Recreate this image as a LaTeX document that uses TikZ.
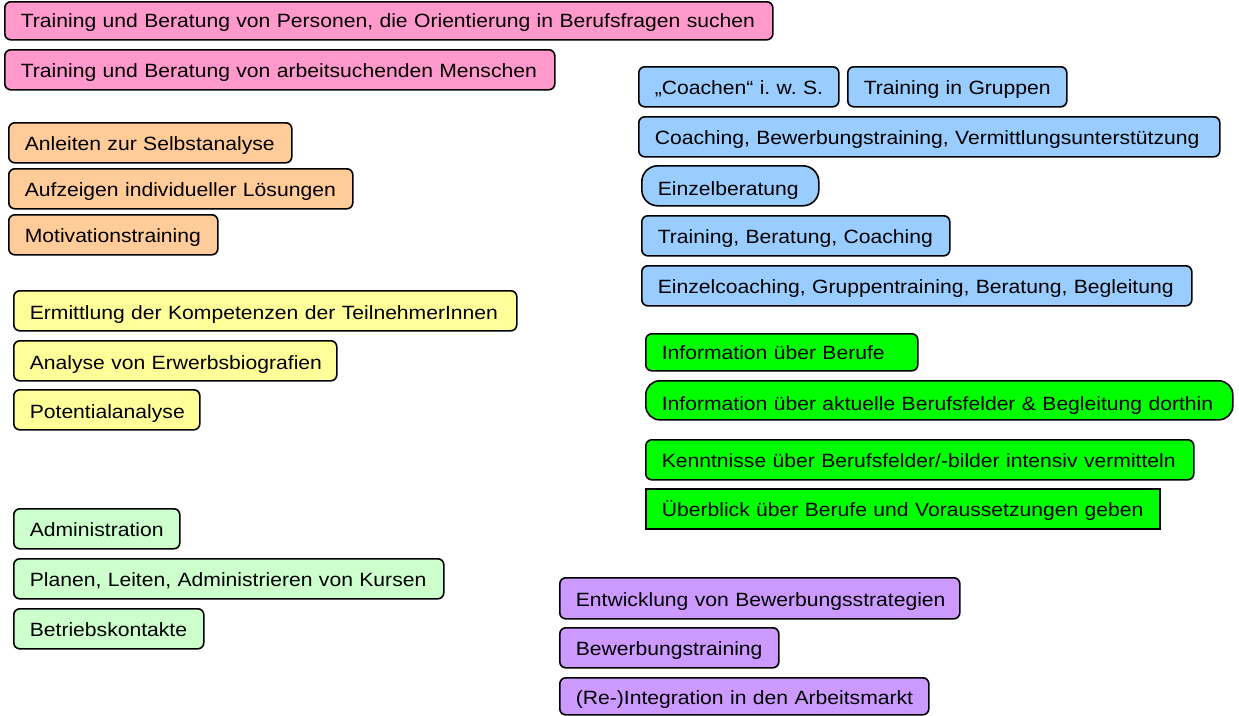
\documentclass[tikz,border=0pt]{standalone}
\usepackage{fontspec}
\setmainfont[FakeStretch=1.1]{Liberation Sans}
\definecolor{pinkc}{HTML}{FF99CC}
\definecolor{bluec}{HTML}{99CCFF}
\definecolor{orangec}{HTML}{FFCC99}
\definecolor{yellowc}{HTML}{FFFF99}
\definecolor{greenc}{HTML}{00FF00}
\definecolor{mintc}{HTML}{CCFFCC}
\definecolor{violetc}{HTML}{CC99FF}
\tikzset{
  tagstyle/.style={draw=black, line width=1.6pt, rounded corners=6pt,
    anchor=north west, inner xsep=16pt, inner ysep=0pt, align=left,
    font=\fontsize{19.2}{21}\selectfont\frenchspacing}
}
% \tagbox[options]{name}{fill}{x1}{y1}{x2}{y2}{baseline above bottom}{text}
\newcommand\tagbox[9][]{%
  \pgfmathsetmacro\tbw{#6-#4}%
  \pgfmathsetmacro\tbh{#7-#5}%
  \pgfmathsetmacro\tbt{#6-#4-32}%
  \pgfmathsetmacro\tbu{#7-#5-#8}%
  \node[tagstyle, fill=#3, minimum width=\tbw pt, minimum height=\tbh pt,
        text width=\tbt pt, text height=\tbu pt, text depth=#8pt, #1]
        (#2) at (#4,#5) {\mbox{#9}};%
}
\begin{document}
\begin{tikzpicture}[x=1pt,y=-1pt]
\useasboundingbox (0,0) rectangle (1239,715);

% target groups
\tagbox{p1}{pinkc}{4}{1}{772}{39}{12}{Training und Beratung von Personen, die Orientierung in Berufsfragen suchen}
\tagbox{p2}{pinkc}{4}{49}{554}{89}{12}{Training und Beratung von arbeitsuchenden Menschen}

% coaching and counselling
\tagbox{b1}{bluec}{638}{66}{838}{106}{12}{„Coachen“ i. w. S.}
\tagbox{b2}{bluec}{847}{66}{1066}{106}{12}{Training in Gruppen}
\tagbox{b3}{bluec}{638}{116}{1219}{156}{12}{Coaching, Bewerbungstraining, Vermittlungsunterstützung}
\tagbox[rounded corners=16pt]{b4}{bluec}{641}{165}{818}{205}{10}{Einzelberatung}
\tagbox{b5}{bluec}{641}{215}{949}{255}{12}{Training, Beratung, Coaching}
\tagbox{b6}{bluec}{641}{265}{1191}{305}{12}{Einzelcoaching, Gruppentraining, Beratung, Begleitung}

% self analysis and motivation
\tagbox{o1}{orangec}{8}{122}{291}{162}{12}{Anleiten zur Selbstanalyse}
\tagbox{o2}{orangec}{8}{168}{352}{208}{12}{Aufzeigen individueller Lösungen}
\tagbox{o3}{orangec}{8}{214}{217}{254}{12}{Motivationstraining}

% competence analysis
\tagbox{y1}{yellowc}{13}{290}{516}{330}{11.5}{Ermittlung der Kompetenzen der TeilnehmerInnen}
\tagbox{y2}{yellowc}{13}{340}{336}{380}{11.5}{Analyse von Erwerbsbiografien}
\tagbox{y3}{yellowc}{13}{389}{199}{429}{11.5}{Potentialanalyse}

% occupational information
\tagbox{g1}{greenc}{645}{333}{917}{370}{11}{Information über Berufe}
\tagbox[rounded corners=14pt]{g2}{greenc}{645}{380}{1232}{419}{9}{Information über aktuelle Berufsfelder \& Begleitung dorthin}
\tagbox{g3}{greenc}{645}{439}{1193}{479}{12}{Kenntnisse über Berufsfelder/-bilder intensiv vermitteln}
\tagbox[sharp corners]{g4}{greenc}{645}{488}{1159}{528}{12}{Überblick über Berufe und Voraussetzungen geben}

% organisation
\tagbox{l1}{mintc}{13}{508}{179}{548}{12}{Administration}
\tagbox{l2}{mintc}{13}{558}{443}{598}{12}{Planen, Leiten, Administrieren von Kursen}
\tagbox{l3}{mintc}{13}{608}{203}{648}{12}{Betriebskontakte}

% job application
\tagbox{v1}{violetc}{559}{577}{959}{618}{12}{Entwicklung von Bewerbungsstrategien}
\tagbox{v2}{violetc}{559}{627}{778}{667}{12}{Bewerbungstraining}
\tagbox{v3}{violetc}{559}{677}{928}{714}{10}{(Re-)Integration in den Arbeitsmarkt}
\end{tikzpicture}
\end{document}
